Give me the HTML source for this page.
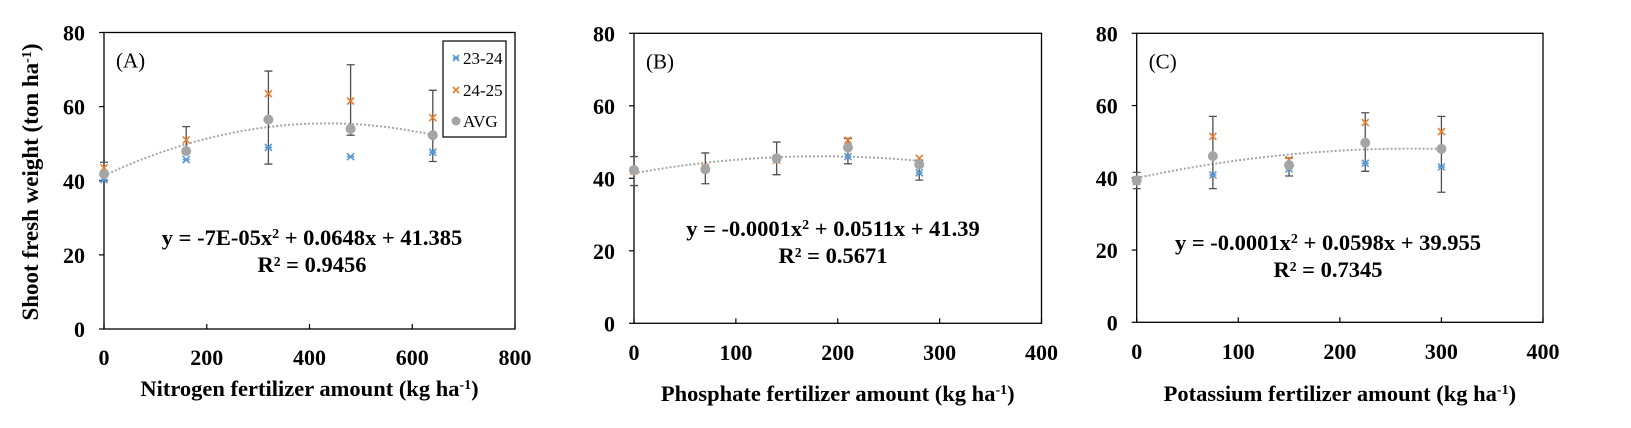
<!DOCTYPE html>
<html><head><meta charset="utf-8"><style>
html,body{margin:0;padding:0;background:#fff}
svg{display:block}
text{font-family:"Liberation Serif",serif;fill:#000}
</style></head><body>
<svg id="s" width="1631" height="428" viewBox="0 0 1631 428" xmlns="http://www.w3.org/2000/svg">
<text x="0" y="0" transform="translate(38,182) rotate(-90)" text-anchor="middle" font-size="23" font-weight="bold">Shoot fresh weight (ton ha<tspan baseline-shift="super" font-size="14">-1</tspan>)</text>
</svg>
<script>
const NS="http://www.w3.org/2000/svg",S=document.getElementById('s');
function el(t,a,txt){const e=document.createElementNS(NS,t);for(const k in a)e.setAttribute(k,a[k]);if(txt!==undefined)e.textContent=txt;S.appendChild(e);return e;}
const FS=22;
const panels=[
{L:104,R:515,T:32.5,B:329,xmax:800,xt:[0,200,400,600,800],lab:"(A)",xl:357,tl:388,
 title:"Nitrogen fertilizer amount (kg ha",eq:"y = -7E-05x",eq2:" + 0.0648x + 41.385",r2:"R² = 0.9456",ex:312,ey:245,
 f:x=>-7.45e-5*x*x+0.0648*x+41.385,xend:640,
 xs:[0,160,320,480,640],g:[41.8,48,56.5,54,52.3],o:[43.5,51,63.5,61.5,57],b:[40.3,45.7,49,46.5,47.7],
 err:[[40,45],[48,54.6],[44.5,69.6],[52.3,71.3],[45.2,64.4]]},
{L:634,R:1041.5,T:33.3,B:323.3,xmax:400,xt:[0,100,200,300,400],lab:"(B)",xl:352,tl:393,
 title:"Phosphate fertilizer amount (kg ha",eq:"y = -0.0001x",eq2:" + 0.0511x + 41.39",r2:"R² = 0.5671",ex:833,ey:236,
 f:x=>-1.39e-4*x*x+0.0511*x+41.39,xend:280,
 xs:[0,70,140,210,280],g:[42.3,42.5,45.5,48.5,43.8],o:[42,43,45,50.5,45.5],b:[42,42.5,45.5,46,41.5],
 err:[[38,46],[38.5,47],[41,50],[44,51],[39.5,45]]},
{L:1136.7,R:1543,T:33.3,B:322.3,xmax:400,xt:[0,100,200,300,400],lab:"(C)",xl:351,tl:393,
 title:"Potassium fertilizer amount (kg ha",eq:"y = -0.0001x",eq2:" + 0.0598x + 39.955",r2:"R² = 0.7345",ex:1328,ey:250,
 f:x=>-1.1e-4*x*x+0.0598*x+39.955,xend:300,
 xs:[0,75,150,225,300],g:[39.3,46,43.5,49.7,48],o:[39.5,51.5,45,55.3,52.8],b:[39,40.8,42.5,44,43],
 err:[[37,41.5],[37,57],[40.5,45.5],[41.8,58],[36,57]]}
];
function xmark(x,y,c,s,star){el('path',{d:`M${x-s} ${y-s}L${x+s} ${y+s}M${x-s} ${y+s}L${x+s} ${y-s}`+(star?`M${x-s} ${y}L${x+s} ${y}`:''),stroke:c,'stroke-width':1.6,fill:'none'});}
panels.forEach(p=>{
 const X=v=>p.L+(p.R-p.L)*v/p.xmax,Y=v=>p.B-(p.B-p.T)*v/80;
 el('rect',{x:p.L,y:p.T,width:p.R-p.L,height:p.B-p.T,fill:'none',stroke:'#000','stroke-width':1.3});
 for(let v=0;v<=80;v+=20){el('line',{x1:p.L,x2:p.L-5,y1:Y(v),y2:Y(v),stroke:'#000','stroke-width':1.2});
  el('text',{x:p.L-19,y:Y(v)+8,'text-anchor':'end','font-size':FS,'font-weight':'bold'},v);}
 p.xt.forEach(v=>{el('line',{x1:X(v),x2:X(v),y1:p.B,y2:p.B-5,stroke:'#000','stroke-width':1.2});
  el('text',{x:X(v),y:p.xl+8,'text-anchor':'middle','font-size':FS,'font-weight':'bold'},v);});
 el('text',{x:p.L+12,y:p.T+35,'font-size':21},p.lab);
 const t=el('text',{x:(p.L+p.R)/2,y:p.tl+8,'text-anchor':'middle','font-size':22.5,'font-weight':'bold'},p.title);
 const sp=document.createElementNS(NS,'tspan');sp.setAttribute('baseline-shift','super');sp.setAttribute('font-size','14');sp.textContent='-1';t.appendChild(sp);t.appendChild(document.createTextNode(')'));
 let d='';for(let x=0;x<=p.xend+0.01;x+=p.xend/60){d+=(d?'L':'M')+X(x).toFixed(1)+' '+Y(p.f(x)).toFixed(1);}
 el('path',{d,stroke:'#a6a6a6','stroke-width':2,'stroke-dasharray':'2 2',fill:'none'});
 p.xs.forEach((x,i)=>{const cx=X(x),e=p.err[i];
  el('path',{d:`M${cx} ${Y(e[0])}V${Y(e[1])}M${cx-4} ${Y(e[0])}h8M${cx-4} ${Y(e[1])}h8`,stroke:'#505050','stroke-width':1.3,fill:'none'});
  xmark(cx,Y(p.b[i]),'#5b9bd5',3.5,true);
  xmark(cx,Y(p.o[i]),'#ed7d31',3.5,false);
  el('circle',{cx,cy:Y(p.g[i]),r:5,fill:'#a5a5a5'});
 });
 const q=el('text',{x:p.ex,y:p.ey,'text-anchor':'middle','font-size':22.5,'font-weight':'bold'},p.eq);
 const s2=document.createElementNS(NS,'tspan');s2.setAttribute('baseline-shift','super');s2.setAttribute('font-size','14');s2.textContent='2';q.appendChild(s2);
 const s3=document.createElementNS(NS,'tspan');s3.textContent=p.eq2;q.appendChild(s3);
 el('text',{x:p.ex,y:p.ey+27,'text-anchor':'middle','font-size':22.5,'font-weight':'bold'},p.r2);
});
el('rect',{x:443,y:41,width:63,height:96,fill:'#fff',stroke:'#000','stroke-width':1.2});
xmark(456,58,'#5b9bd5',3,true);el('text',{x:463,y:64,'font-size':17},'23-24');
xmark(456,90,'#ed7d31',3,false);el('text',{x:463,y:96,'font-size':17},'24-25');
el('circle',{cx:456,cy:121,r:4.5,fill:'#a5a5a5'});el('text',{x:463,y:127,'font-size':17},'AVG');
</script>
</body></html>
